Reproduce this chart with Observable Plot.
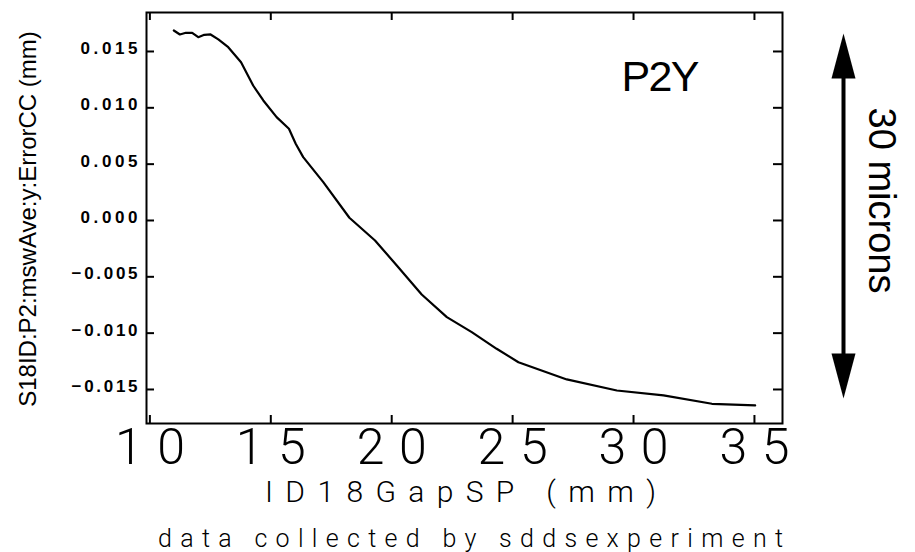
<!DOCTYPE html>
<html>
<head>
<meta charset="utf-8">
<script src="https://cdn.jsdelivr.net/npm/d3@7"></script>
<script src="https://cdn.jsdelivr.net/npm/@observablehq/plot@0.6"></script>
<style>
  html, body { margin: 0; padding: 0; background: #fff; }
</style>
</head>
<body>
<div id="chart"></div>
<script>
// ---- data ----
const gapSP = [10.99, 11.24, 11.49, 11.75, 12.00, 12.25, 12.51, 12.83, 13.24, 13.77,
  14.27, 14.69, 15.24, 15.75, 16.03, 16.34, 17.17, 18.25, 19.31, 20.21,
  21.24, 22.28, 23.31, 24.34, 25.24, 27.24, 29.31, 31.24, 33.24, 35.03];
const errorCC = [0.01686, 0.01651, 0.01666, 0.01666, 0.01627, 0.01648, 0.01651, 0.01607, 0.01538, 0.01405,
  0.01198, 0.01065, 0.00917, 0.00814, 0.00681, 0.00562, 0.00340, 0.00024, -0.00178, -0.00399,
  -0.00657, -0.00858, -0.00991, -0.01139, -0.01258, -0.01411, -0.01509, -0.01553, -0.01627, -0.01642];
const xTicks = [10, 15, 20, 25, 30, 35];
const yTicks = [0.015, 0.010, 0.005, 0.000, -0.005, -0.010, -0.015];
const xDomain = [9.86, 36.16];
const yDomain = [-0.01802, 0.01846];
const xLabel = "ID18GapSP (mm)";
const yLabel = "S18ID:P2:mswAve:y:ErrorCC (mm)";
const caption = "data collected by sddsexperiment";
const panelLabel = "P2Y";
const arrowLabel = "30 microns";

const points = gapSP.map((g, i) => ({gap: g, err: errorCC[i]}));

const headUp = { draw(ctx) { ctx.moveTo(0, 0); ctx.lineTo(12, 45); ctx.lineTo(-12, 45); ctx.closePath(); } };
const headDown = { draw(ctx) { ctx.moveTo(0, 0); ctx.lineTo(12, -45); ctx.lineTo(-12, -45); ctx.closePath(); } };

const hershey = "Roboto, 'DejaVu Sans', sans-serif";
const sans = "'Liberation Sans', Arial, sans-serif";

const svg = Plot.plot({
  width: 915,
  height: 552,
  marginLeft: 146,
  marginRight: 133,
  marginTop: 12,
  marginBottom: 129,
  style: { background: "#fff", color: "#000", overflow: "visible" },
  x: { domain: xDomain, axis: null },
  y: { domain: yDomain, axis: null },
  marks: [
    Plot.frame({ stroke: "#000", strokeWidth: 2 }),
    // inward ticks
    Plot.tickX(xTicks, { x: d => d, insetTop: 403, strokeWidth: 2 }),
    Plot.tickX(xTicks, { x: d => d, insetBottom: 403, strokeWidth: 2 }),
    Plot.tickY(yTicks, { y: d => d, insetRight: 628, strokeWidth: 2 }),
    Plot.tickY(yTicks, { y: d => d, insetLeft: 627, strokeWidth: 2 }),
    // x tick labels
    Plot.text(xTicks, { x: d => d, frameAnchor: "bottom", textAnchor: "middle", lineAnchor: "top", dy: 5,
      text: d => String(d), fontSize: 50, fontFamily: hershey, fontWeight: 300,
      className: "xtl" }),
    // y tick labels
    Plot.text(yTicks, { y: d => d, frameAnchor: "left", textAnchor: "end", dx: -9, dy: -3,
      text: d => d3.format(".3f")(d), fontSize: 17, fontFamily: sans,
      fontWeight: "bold", className: "ytl" }),
    // axis labels
    Plot.text([xLabel], { frameAnchor: "bottom", textAnchor: "middle", lineAnchor: "top", dy: 57, dx: -4,
      fontSize: 30, fontFamily: hershey, fontWeight: 300, className: "xlab" }),
    Plot.text([caption], { frameAnchor: "bottom", textAnchor: "middle", lineAnchor: "top", dy: 106, dx: 6,
      fontSize: 25, fontFamily: hershey, fontWeight: 300, className: "cap" }),
    Plot.text([yLabel], { frameAnchor: "left", textAnchor: "middle", rotate: -90, lineAnchor: "middle",
      dx: -118.5, dy: 1, fontSize: 24, fontFamily: sans, letterSpacing: 1.1 }),
    // data line
    Plot.line(points, { x: "gap", y: "err", stroke: "#000", strokeWidth: 2.2 }),
    // panel label
    Plot.text([panelLabel], { frameAnchor: "top-right", textAnchor: "middle", lineAnchor: "top", dx: -122, dy: 48,
      fontSize: 43, fontFamily: sans, className: "p2y" }),
    // 30 microns arrow
    Plot.ruleX([xDomain[1]], { dx: 61, insetTop: 55, insetBottom: 55, strokeWidth: 4, stroke: "#000" }),
    Plot.dot([0], { frameAnchor: "top-right", dx: 61, dy: 21, symbol: headUp, fill: "#000" }),
    Plot.dot([0], { frameAnchor: "bottom-right", dx: 61, dy: -25, symbol: headDown, fill: "#000" }),
    Plot.text([arrowLabel], { frameAnchor: "right", textAnchor: "middle", rotate: 90, lineAnchor: "middle",
      dx: 99, dy: -17.5, fontSize: 38, fontFamily: sans, letterSpacing: 2 })
  ]
});

const s = d3.select(svg);
s.selectAll("g.xtl text").attr("textLength", 70).attr("lengthAdjust", "spacing");
s.selectAll("g.ytl text").each(function() {
  const t = this.textContent;
  d3.select(this).attr("textLength", t.length > 5 ? 66 : 57).attr("lengthAdjust", "spacing");
});
s.selectAll("g.xlab text").attr("textLength", 391).attr("lengthAdjust", "spacing");
s.selectAll("g.cap text").attr("textLength", 625).attr("lengthAdjust", "spacing");
s.selectAll("g.p2y text").attr("textLength", 78).attr("lengthAdjust", "spacing");

document.getElementById("chart").appendChild(svg);
</script>
</body>
</html>
